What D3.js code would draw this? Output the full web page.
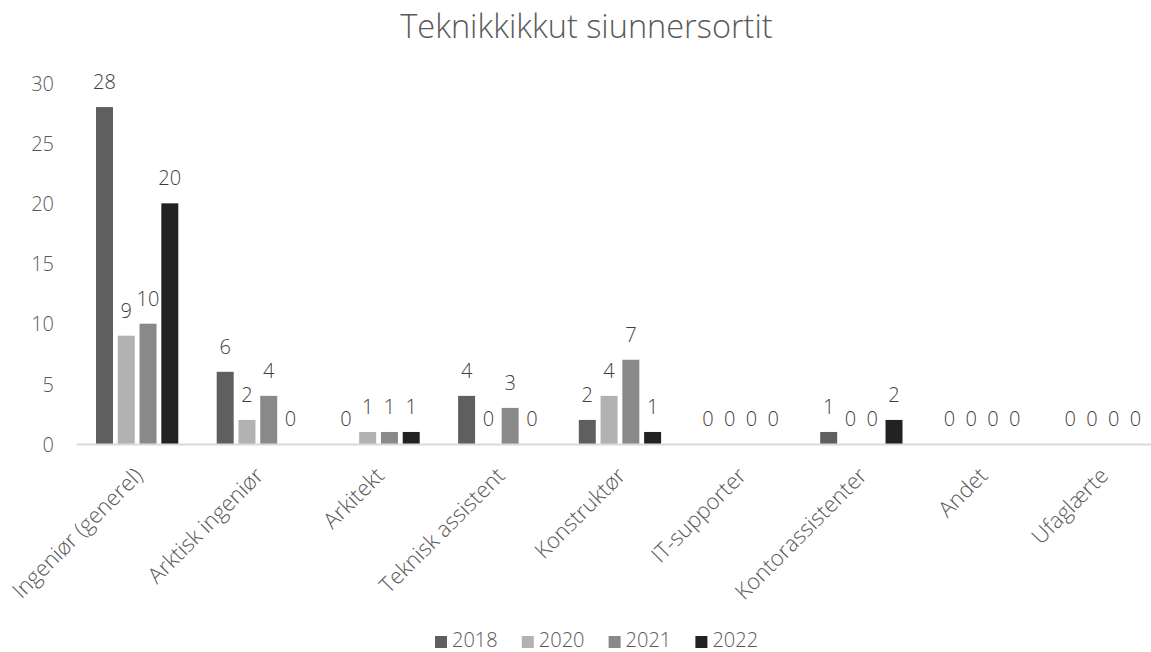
<!DOCTYPE html>
<html>
<head>
<meta charset="utf-8">
<script src="https://cdn.jsdelivr.net/npm/d3@7"></script>
<style>
  html, body { margin: 0; padding: 0; background: #fff; }
  svg { display: block; font-family: "Open Sans", "Liberation Sans", sans-serif; }
</style>
</head>
<body>
<svg id="chart" width="1151" height="652"></svg>
<script>
const title = "Teknikkikkut siunnersortit";
const categories = ["Ingeniør (generel)", "Arktisk ingeniør", "Arkitekt", "Teknisk assistent",
  "Konstruktør", "IT-supporter", "Kontorassistenter", "Andet", "Ufaglærte"];
const seriesNames = ["2018", "2020", "2021", "2022"];
const values2018 = [28, 6, 0, 4, 2, 0, 1, 0, 0];
const values2020 = [9, 2, 1, 0, 4, 0, 0, 0, 0];
const values2021 = [10, 4, 1, 3, 7, 0, 0, 0, 0];
const values2022 = [20, 0, 1, 0, 1, 0, 2, 0, 0];
const yTicks = [0, 5, 10, 15, 20, 25, 30];
const colors = ["#5f5f5f", "#b2b2b2", "#898989", "#222222"];

const seriesValues = [values2018, values2020, values2021, values2022];
const rows = categories.map((c, i) => ({
  cat: c,
  vals: seriesNames.map((s, j) => ({ series: s, idx: j, value: seriesValues[j][i] }))
}));

const svg = d3.select("#chart");

const plotLeft = 76.7, band = 120.7, plotTop = 83, plotBottom = 444;

const x0 = d3.scaleBand().domain(categories)
  .range([plotLeft, plotLeft + band * categories.length])
  .paddingInner(0).paddingOuter(0);
const x1 = d3.scaleBand().domain(seriesNames)
  .range([19.3, 101.6]).paddingInner(0.22).paddingOuter(0);
const y = d3.scaleLinear().domain([0, 30]).range([plotBottom, plotTop]);
const color = d3.scaleOrdinal().domain(seriesNames).range(colors);

// title
svg.append("text")
  .attr("x", 586.5).attr("y", 38)
  .attr("text-anchor", "middle")
  .attr("font-size", 32.5).attr("font-weight", 300)
  .attr("fill", "#595959")
  .text(title);

// y axis (labels only)
const yAxis = d3.axisLeft(y).tickValues(yTicks).tickSize(0).tickPadding(0);
const yg = svg.append("g").attr("transform", "translate(54,0)").call(yAxis);
yg.attr("font-family", null).attr("font-size", null);
yg.select(".domain").remove();
yg.selectAll("text").attr("font-size", 20).attr("font-weight", 300)
  .attr("fill", "#595959").attr("dy", "0.36em");

// bars
const groups = svg.append("g").selectAll("g").data(rows).join("g")
  .attr("transform", d => `translate(${x0(d.cat)},0)`);
groups.selectAll("rect").data(d => d.vals).join("rect")
  .attr("x", d => x1(d.series))
  .attr("width", x1.bandwidth())
  .attr("y", d => y(d.value))
  .attr("height", d => y(0) - y(d.value))
  .attr("fill", d => color(d.series));

// data labels
groups.selectAll("text").data(d => d.vals).join("text")
  .attr("x", d => x1(d.series) + x1.bandwidth() / 2)
  .attr("y", d => y(d.value) - 18)
  .attr("text-anchor", "middle")
  .attr("font-size", 20).attr("font-weight", 300)
  .attr("fill", "#404040")
  .text(d => d.value);

// x axis line
svg.append("line")
  .attr("x1", plotLeft).attr("x2", 1151)
  .attr("y1", y(0) + 0.5).attr("y2", y(0) + 0.5)
  .attr("stroke", "#d9d9d9").attr("stroke-width", 2);

// category labels
svg.append("g").selectAll("text").data(categories).join("text")
  .attr("transform", d => `translate(${x0(d) + x0.bandwidth() / 2 + 7},477) rotate(-45)`)
  .attr("text-anchor", "end")
  .attr("font-size", 22).attr("font-weight", 300)
  .attr("fill", "#595959")
  .text(d => d);

// legend
const legend = svg.append("g").selectAll("g").data(seriesNames).join("g")
  .attr("transform", (d, i) => `translate(${435 + i * 86.8},636)`);
legend.append("rect").attr("width", 12).attr("height", 12)
  .attr("fill", d => color(d));
legend.append("text").attr("x", 17).attr("y", 11)
  .attr("font-size", 20).attr("font-weight", 300)
  .attr("fill", "#595959")
  .text(d => d);
</script>
</body>
</html>
